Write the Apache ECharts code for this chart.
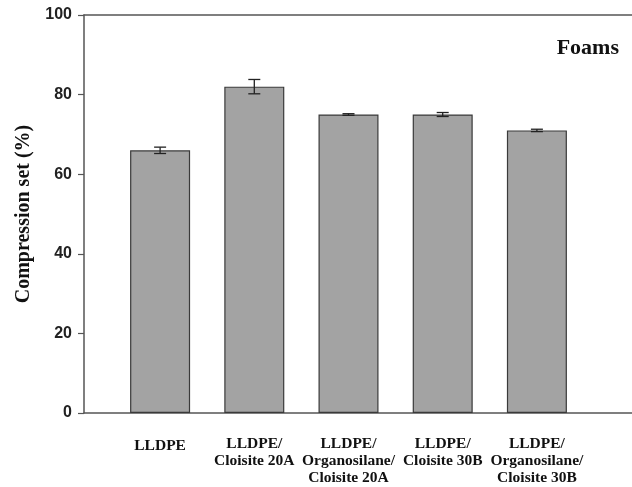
<!DOCTYPE html>
<html><head><meta charset="utf-8">
<script src="https://cdn.jsdelivr.net/npm/echarts@6/dist/echarts.min.js"></script>
<style>html,body{margin:0;padding:0;background:#fff}#c{width:632px;height:487px}</style>
</head><body><div id="c"></div>
<script>
const categories = ['LLDPE', 'LLDPE/\nCloisite 20A', 'LLDPE/\nOrganosilane/\nCloisite 20A', 'LLDPE/\nCloisite 30B', 'LLDPE/\nOrganosilane/\nCloisite 30B'];
const values = [66, 82, 75, 75, 71];
const errors = [0.8, 1.8, 0.2, 0.5, 0.3];
const yMin = 0, yMax = 100, yStep = 20;
const panelLabel = 'Foams';
const yTitle = 'Compression set (%)';

const serif = '"Liberation Serif", "Times New Roman", serif';
const sans = '"Liberation Sans", Arial, sans-serif';
const axisColor = '#555';

const chart = echarts.init(document.getElementById('c'));
chart.setOption({
  animation: false,
  title: {text: panelLabel, right: 8, top: 32, textStyle: {fontFamily: serif, fontWeight: 'bold', fontSize: 22, color: '#111'}},
  grid: [
    {left: 84, right: -2, top: 15, bottom: 74},
    {left: 113, right: 48, top: 15, bottom: 74}
  ],
  xAxis: [
    {gridIndex: 0, type: 'value', min: 0, max: 1, position: 'bottom', axisLine: {show: true, lineStyle: {color: axisColor, width: 1.5}}, axisTick: {show: false}, axisLabel: {show: false}, splitLine: {show: false}},
    {gridIndex: 0, type: 'value', min: 0, max: 1, position: 'top', axisLine: {show: true, lineStyle: {color: axisColor, width: 1.5}}, axisTick: {show: false}, axisLabel: {show: false}, splitLine: {show: false}},
    {gridIndex: 1, type: 'category', data: categories, axisLine: {show: false}, axisTick: {show: false},
     axisLabel: {margin: 22, fontFamily: serif, fontWeight: 'bold', fontSize: 15.5, lineHeight: 17, color: '#111', verticalAlign: 'top', interval: 0,
       formatter: function (v) { return v.indexOf('\n') < 0 ? '{p|' + v + '}' : v; },
       rich: {p: {fontFamily: serif, fontWeight: 'bold', fontSize: 15.5, color: '#111', padding: [4, 0, 0, 0]}}}}
  ],
  yAxis: [
    {gridIndex: 0, type: 'value', min: yMin, max: yMax, interval: yStep,
     name: yTitle, nameLocation: 'middle', nameGap: 50, nameTextStyle: {fontFamily: serif, fontWeight: 'bold', fontSize: 20, color: '#111'},
     axisLine: {show: true, lineStyle: {color: axisColor, width: 1.5}},
     axisTick: {show: true, inside: false, length: 6, lineStyle: {color: axisColor, width: 1.2}},
     axisLabel: {margin: 12, fontFamily: sans, fontWeight: 'bold', fontSize: 16, color: '#222'},
     splitLine: {show: false}},
    {gridIndex: 1, type: 'value', min: yMin, max: yMax, show: false}
  ],
  series: [
    {type: 'bar', xAxisIndex: 2, yAxisIndex: 1, data: values, barWidth: 60,
     itemStyle: {color: '#a3a3a3', borderColor: '#3a3a3a', borderWidth: 1.2}},
    {type: 'custom', xAxisIndex: 2, yAxisIndex: 1,
     data: values.map((v, i) => [i, v - errors[i], v + errors[i]]),
     renderItem: function (params, api) {
       const lo = api.coord([api.value(0), api.value(1)]);
       const hi = api.coord([api.value(0), api.value(2)]);
       const x = lo[0], hw = 6;
       const st = {stroke: '#222', lineWidth: 1.3};
       return {type: 'group', children: [
         {type: 'line', shape: {x1: x, y1: lo[1], x2: x, y2: hi[1]}, style: st},
         {type: 'line', shape: {x1: x - hw, y1: lo[1], x2: x + hw, y2: lo[1]}, style: st},
         {type: 'line', shape: {x1: x - hw, y1: hi[1], x2: x + hw, y2: hi[1]}, style: st}
       ]};
     }, z: 5}
  ]
});
</script></body></html>
